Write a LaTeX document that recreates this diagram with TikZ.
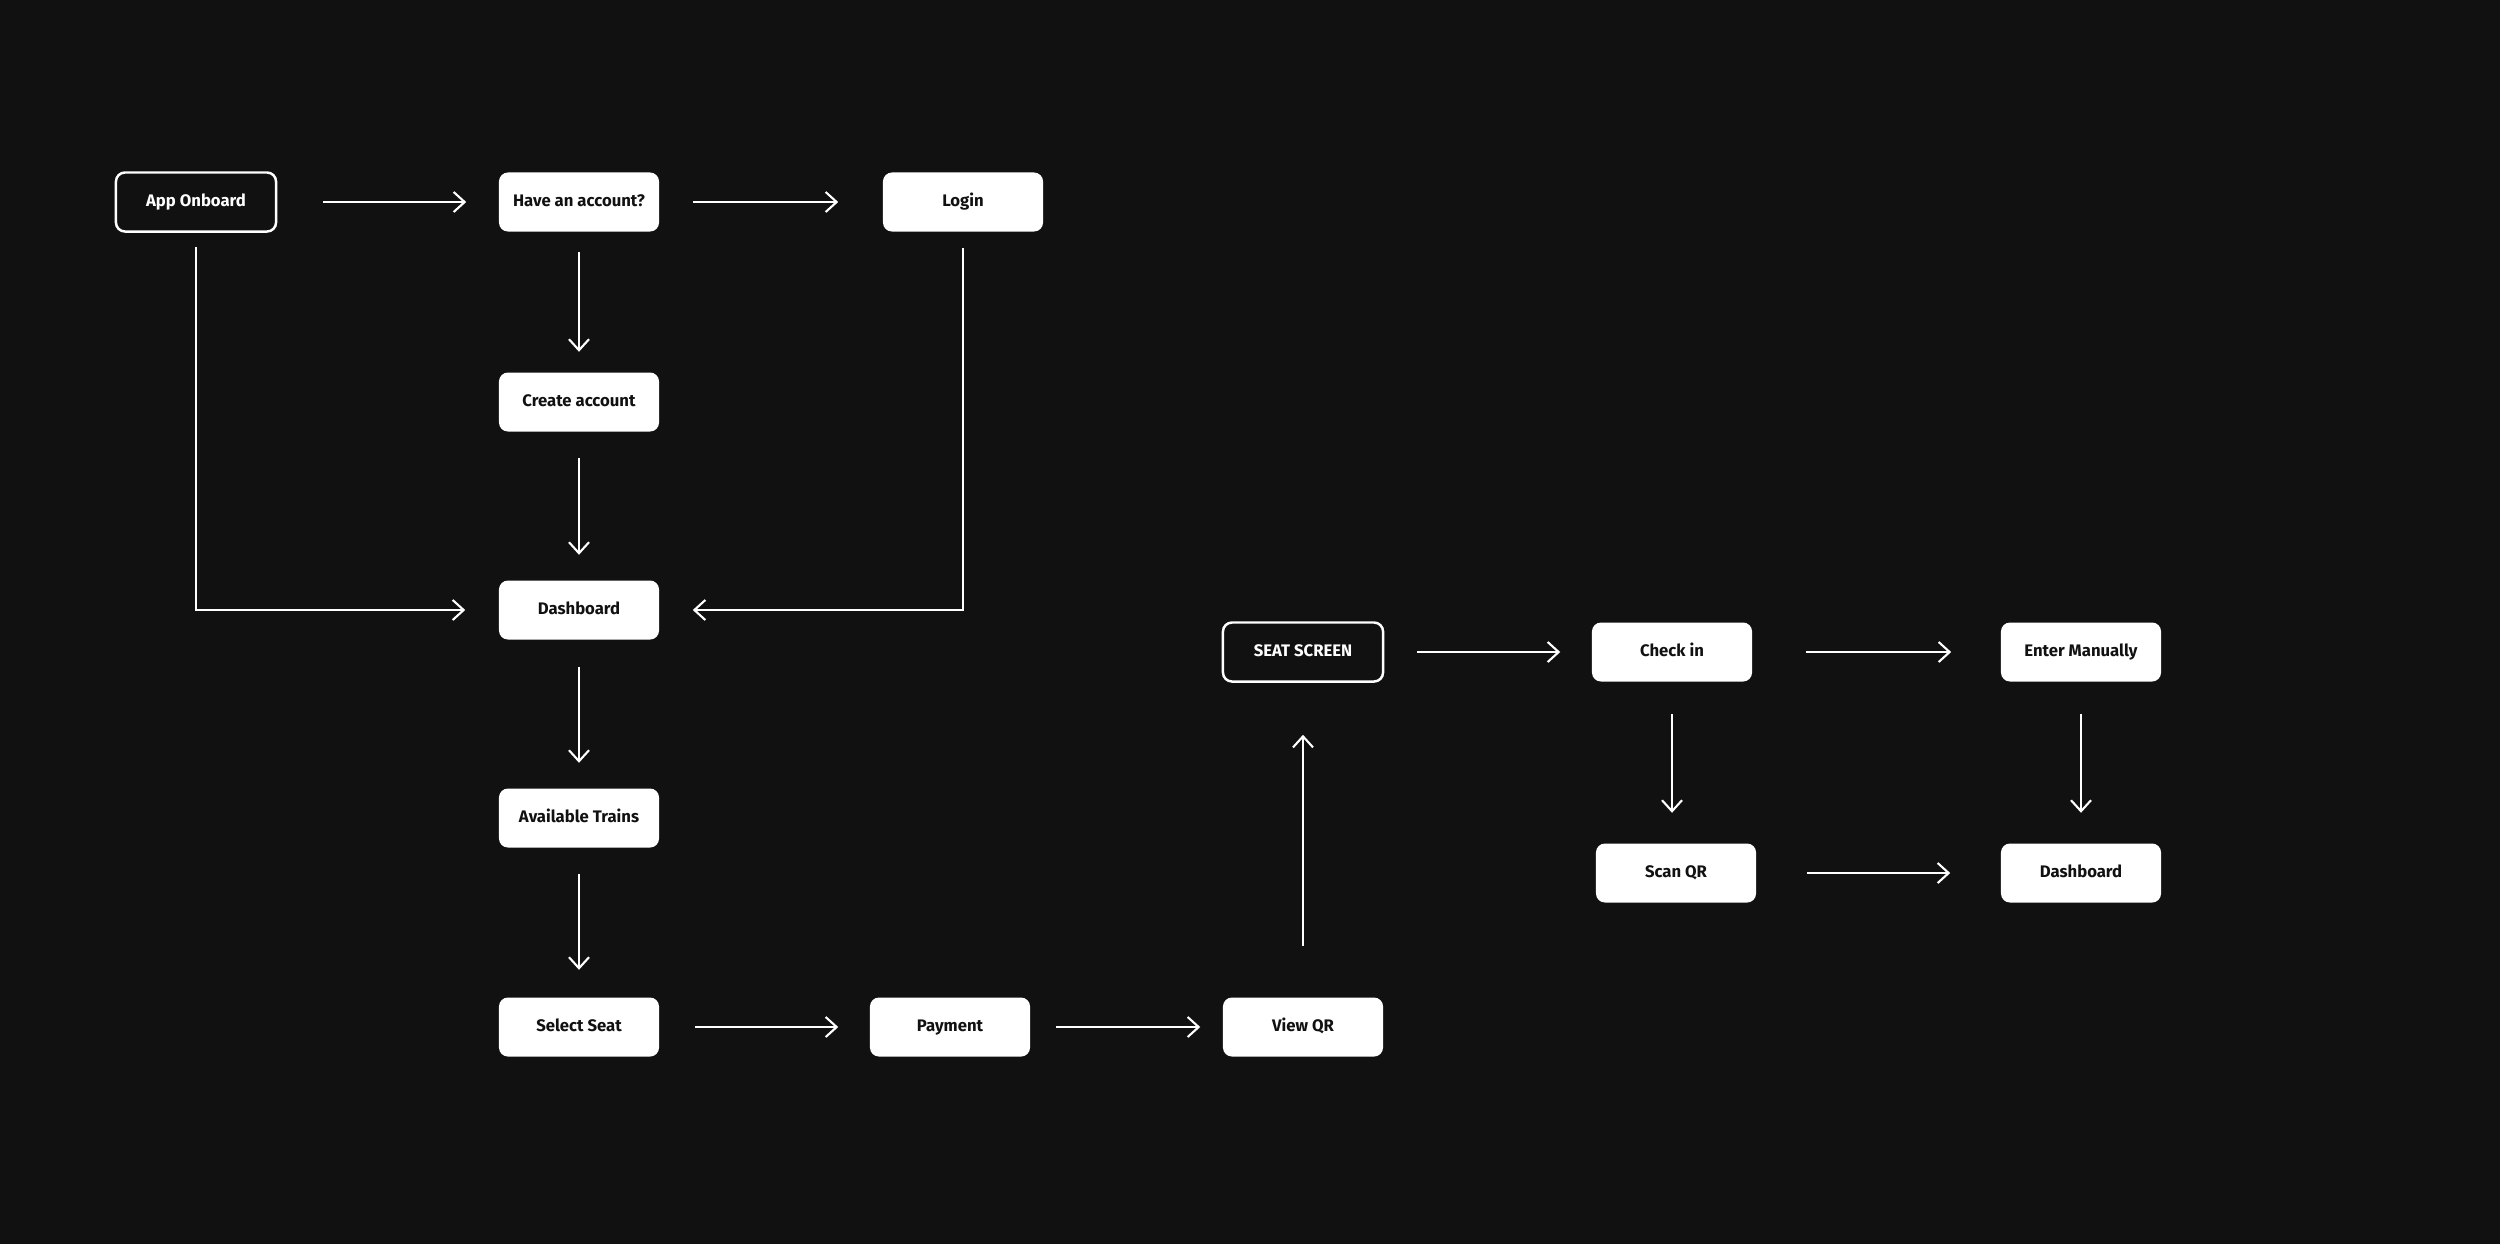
\documentclass[tikz,border=0pt]{standalone}
\usepackage{fontspec}
\setmainfont{Fira Sans}
\usepackage{xcolor}
\usetikzlibrary{arrows.meta,positioning}
\definecolor{canvas}{HTML}{111111}
\definecolor{inkdark}{HTML}{111111}

\begin{document}
\begin{tikzpicture}[x=0.01cm, y=-0.01cm,
  box/.style={rectangle, rounded corners=0.09cm, minimum width=1.6cm,
    minimum height=0.59cm, inner sep=0pt, text height=3.4pt, text depth=0.7pt,
    font=\fontsize{4.75}{6}\selectfont\bfseries, text centered},
  card/.style={box, fill=white, text=inkdark},
  ghost/.style={box, draw=white, line width=0.7pt, fill=canvas, text=white},
  link/.style={-{Straight Barb[length=0.11cm, width=0.2cm]}, white, line width=0.6pt},
]
  \fill[canvas] (0,0) rectangle (2500,1244);

  % sign-up column
  \node[ghost] (onboard) at (196,202) {App Onboard};
  \node[card] (account) at (579,202) {Have an account?};
  \node[card] (login) at (963,202) {Login};
  \node[card] (create) at (579,402) {Create account};
  \node[card] (dash) at (579,610) {Dashboard};
  \node[card] (trains) at (579,818) {Available Trains};
  \node[card] (seat) at (579,1027) {Select Seat};
  \node[card] (pay) at (950,1027) {Payment};
  \node[card] (viewqr) at (1303,1027) {View QR};

  % check-in part
  \node[ghost] (seatscr) at (1303,652) {SEAT SCREEN};
  \node[card] (checkin) at (1672,652) {Check in};
  \node[card] (manual) at (2081,652) {Enter Manually};
  \node[card] (scanqr) at (1676,873) {Scan QR};
  \node[card] (dash2) at (2081,873) {Dashboard};

  \draw[link, shorten <=0.46cm, shorten >=0.32cm] (onboard) -- (account);
  \draw[link, shorten <=0.33cm, shorten >=0.44cm] (account) -- (login);
  \draw[link, shorten <=0.2cm, shorten >=0.2cm] (account) -- (create);
  \draw[link, shorten <=0.26cm, shorten >=0.25cm] (create) -- (dash);
  \draw[link, shorten <=0.14cm, shorten >=0.33cm] (onboard.south) |- (dash.west);
  \draw[link, shorten <=0.16cm, shorten >=0.33cm] (login.south) |- (dash.east);
  \draw[link, shorten <=0.27cm, shorten >=0.25cm] (dash) -- (trains);
  \draw[link, shorten <=0.26cm, shorten >=0.27cm] (trains) -- (seat);
  \draw[link, shorten <=0.35cm, shorten >=0.31cm] (seat) -- (pay);
  \draw[link, shorten <=0.25cm, shorten >=0.22cm] (pay) -- (viewqr);
  \draw[link, shorten <=0.51cm, shorten >=0.52cm] (viewqr) -- (seatscr);
  \draw[link, shorten <=0.33cm, shorten >=0.31cm] (seatscr) -- (checkin);
  \draw[link, shorten <=0.53cm, shorten >=0.49cm] (checkin) -- (manual);
  \draw[link, shorten <=0.32cm, shorten >=0.3cm] (checkin.south) -- (checkin.south |- scanqr.north);
  \draw[link, shorten <=0.32cm, shorten >=0.3cm] (manual) -- (dash2);
  \draw[link, shorten <=0.5cm, shorten >=0.5cm] (scanqr) -- (dash2);
\end{tikzpicture}
\end{document}
